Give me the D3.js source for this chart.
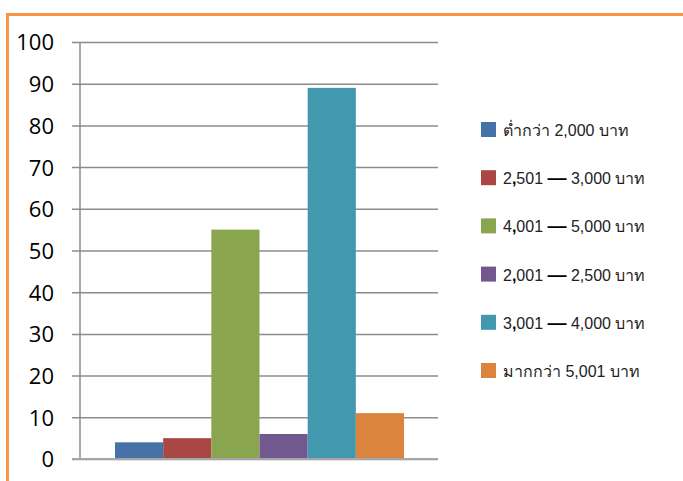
<!DOCTYPE html>
<html><head><meta charset="utf-8">
<script src="https://cdn.jsdelivr.net/npm/d3@7"></script>
<style>body{margin:0;background:#fff;}svg{display:block;}</style>
</head><body>
<svg id="c" width="683" height="481"></svg>
<script>
const legendPrefix = ["ต่ำกว่า 2,000 บาท","2,501","4,001","2,001","3,001","มากกว่า 5,001 บาท"];
const legendSuffix = ["","3,000 บาท","5,000 บาท","2,500 บาท","4,000 บาท",""];
const values = [4, 5, 55, 6, 89, 11];
const colors = ["#4572a7","#aa4643","#89a54e","#71588f","#4198af","#db843d"];
const yTicks = [0,10,20,30,40,50,60,70,80,90,100];

const svg = d3.select("#c");
svg.append("rect").attr("width",683).attr("height",481).attr("fill","#fff");
// border
svg.append("line").attr("x1",6).attr("x2",683).attr("y1",14.5).attr("y2",14.5).attr("stroke","#f79646").attr("stroke-width",3);
svg.append("line").attr("x1",7.5).attr("x2",7.5).attr("y1",13).attr("y2",481).attr("stroke","#f79646").attr("stroke-width",3);

const x0 = 80, x1 = 438, yTop = 42, yBot = 459;
const y = d3.scaleLinear().domain([0,100]).range([yBot,yTop]);
const xb = d3.scaleBand().domain(d3.range(values.length)).range([115,404]).padding(0);

const yAxis = d3.axisLeft(y).tickValues(yTicks).tickSize(8).tickPadding(18);
const g = svg.append("g").attr("transform",`translate(${x0},0)`).call(yAxis);
g.select(".domain").remove();
g.selectAll(".tick line").attr("stroke","#8c8c8c").attr("stroke-width",1.5).attr("x2",x1-x0).attr("x1",-8);
g.selectAll(".tick text").attr("font-family","'Open Sans', 'Liberation Sans', sans-serif").attr("font-size",22).attr("fill","#000").attr("dy","0.36em");
svg.append("line").attr("x1",x0).attr("x2",x0).attr("y1",yTop).attr("y2",yBot).attr("stroke","#8c8c8c").attr("stroke-width",1.5);

svg.selectAll("rect.bar").data(values).enter().append("rect").attr("class","bar")
 .attr("x",(d,i)=>xb(i)).attr("width",xb.bandwidth())
 .attr("y",d=>y(d)).attr("height",d=>yBot-y(d)).attr("fill",(d,i)=>colors[i]);
svg.append("line").attr("x1",x0-8).attr("x2",x1).attr("y1",yBot).attr("y2",yBot).attr("stroke","#a6a6a6").attr("stroke-width",2);

const ly = d3.scalePoint().domain(d3.range(legendPrefix.length)).range([130,371]);
const lg = svg.append("g");
legendPrefix.forEach((t,i)=>{
  lg.append("rect").attr("x",481).attr("y",ly(i)-8).attr("width",15).attr("height",15).attr("fill",colors[i]);
  const tx = lg.append("text").attr("x",503).attr("y",ly(i)+6).attr("font-family","'Liberation Sans', 'Noto Sans', sans-serif").attr("font-size",16).attr("fill","#222");
  if (legendSuffix[i]) {
    const parts = t.split(",");
    tx.append("tspan").text(parts[0]);
    tx.append("tspan").attr("font-weight","bold").attr("fill","#000").text(",");
    tx.append("tspan").text(parts[1] + " ");
    tx.append("tspan").attr("font-weight","bold").attr("font-size",19).attr("fill","#000").text("—");
    tx.append("tspan").text(" " + legendSuffix[i]);
  } else {
    tx.append("tspan").text(t);
  }
});
</script>
</body></html>
